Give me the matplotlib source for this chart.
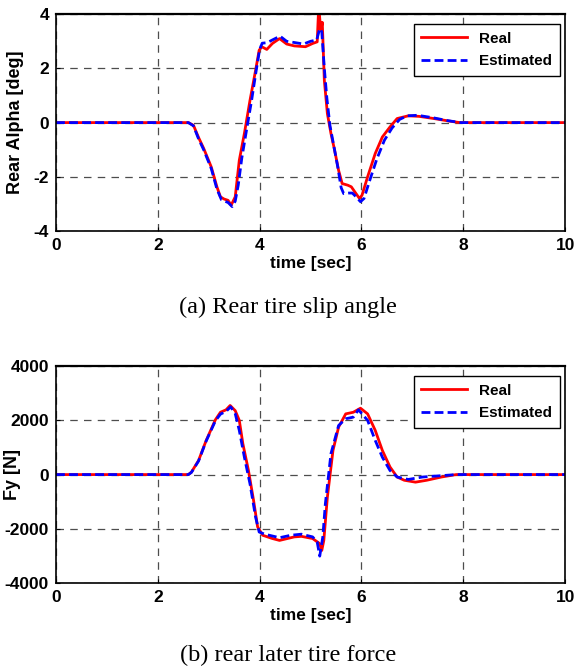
import matplotlib
matplotlib.use('Agg')
import matplotlib.pyplot as plt

# (a) rear tire slip angle [deg]
t_alpha_real = [0, 2.6, 2.7, 2.8, 2.9, 3.05, 3.16, 3.23, 3.3, 3.38, 3.44, 3.52, 3.6, 3.7, 3.81,
                3.92, 3.99, 4.04, 4.14, 4.25, 4.39, 4.53, 4.68, 4.9, 5.04, 5.13, 5.16, 5.2, 5.23,
                5.27, 5.33, 5.4, 5.47, 5.55, 5.62, 5.73, 5.8, 5.87, 5.96, 6.01, 6.12, 6.27, 6.41,
                6.56, 6.7, 6.92, 7.13, 7.42, 7.71, 7.93, 10]
alpha_real = [0, 0, -0.1, -0.55, -0.95, -1.64, -2.37, -2.74, -2.82, -2.87, -3.05, -2.74, -1.39, -0.4, 0.82,
              1.93, 2.67, 2.8, 2.7, 2.92, 3.1, 2.9, 2.83, 2.8, 2.92, 2.98, 4.3, 3.4, 3.7,
              1.56, 0.33, -0.4, -1.0, -1.76, -2.25, -2.31, -2.37, -2.56, -2.8, -2.68, -2.0, -1.14, -0.53,
              -0.16, 0.15, 0.25, 0.23, 0.15, 0.06, 0.0, 0]

t_alpha_est = [0, 2.6, 2.7, 2.8, 2.9, 3.05, 3.16, 3.25, 3.38, 3.46, 3.52, 3.58, 3.65, 3.74, 3.84,
               3.93, 4.0, 4.05, 4.15, 4.25, 4.4, 4.53, 4.7, 4.86, 5.0, 5.12, 5.18, 5.22, 5.27,
               5.32, 5.38, 5.45, 5.53, 5.6, 5.65, 5.75, 5.82, 5.9, 5.98, 6.05, 6.15, 6.3, 6.45,
               6.6, 6.75, 6.9, 7.1, 7.4, 7.7, 7.95, 10]
alpha_est = [0, 0, -0.12, -0.6, -1.0, -1.7, -2.45, -2.85, -2.95, -3.1, -2.9, -2.3, -1.3, -0.3, 0.8,
             1.9, 2.7, 2.93, 2.95, 3.05, 3.19, 3.0, 2.95, 2.9, 3.0, 3.05, 3.47, 3.35, 2.0,
             0.9, -0.1, -0.8, -1.6, -2.4, -2.62, -2.6, -2.6, -2.75, -2.92, -2.8, -2.2, -1.35, -0.65,
             -0.2, 0.12, 0.25, 0.27, 0.18, 0.07, 0.0, 0]

# (b) rear lateral tire force [N]
t_fy_real = [0, 2.6, 2.66, 2.8, 2.95, 3.13, 3.23, 3.34, 3.42, 3.52, 3.6, 3.67, 3.78, 3.88, 3.96,
             4.06, 4.25, 4.39, 4.68, 4.82, 5.04, 5.18, 5.22, 5.26, 5.33, 5.44, 5.55, 5.69, 5.84,
             5.98, 6.12, 6.27, 6.41, 6.56, 6.7, 6.84, 7.06, 7.28, 7.57, 7.86, 10]
fy_real = [0, 0, 90, 520, 1260, 2020, 2300, 2390, 2550, 2360, 2000, 1140, 150, -950, -1930,
           -2240, -2360, -2430, -2300, -2280, -2360, -2550, -2800, -2430, -830, 890, 1750, 2240, 2300,
           2450, 2240, 1630, 890, 280, -90, -210, -280, -210, -90, 0, 0]

t_fy_est = [0, 2.6, 2.66, 2.8, 2.95, 3.13, 3.23, 3.34, 3.43, 3.52, 3.6, 3.7, 3.81, 3.92, 3.99,
            4.1, 4.39, 4.61, 4.82, 5.04, 5.13, 5.18, 5.24, 5.29, 5.4, 5.55, 5.69, 5.84, 5.94,
            6.12, 6.27, 6.41, 6.56, 6.7, 6.92, 7.2, 7.57, 7.86, 10]
fy_est = [0, 0, 80, 500, 1240, 1980, 2230, 2330, 2500, 2250, 1630, 640, -340, -1570, -2120,
          -2200, -2330, -2240, -2200, -2300, -2490, -3010, -2300, -1080, 770, 1810, 2060, 2120, 2390,
          2000, 1260, 640, 150, -90, -180, -90, -40, 0, 0]

x_ticks = [0, 2, 4, 6, 8, 10]
alpha_ticks = [-4, -2, 0, 2, 4]
fy_ticks = [-4000, -2000, 0, 2000, 4000]

plt.rcParams['font.family'] = ['Liberation Sans', 'DejaVu Sans']
plt.rcParams['font.weight'] = 'bold'
plt.rcParams['axes.unicode_minus'] = False


def desenha_painel(ax, t_real, v_real, t_est, v_est, yticks, ylabel, label_x):
    ax.plot(t_real, v_real, color='red', lw=2.0, label='Real')
    ax.plot(t_est, v_est, color='blue', lw=2.0, ls=(0, (3.2, 1.5)), label='Estimated')
    ax.set_xlim(0, 10)
    ax.set_ylim(yticks[0], yticks[-1])
    ax.set_xticks(x_ticks)
    ax.set_yticks(yticks)
    ax.grid(True, color='0.3', ls=(0, (6, 5)), lw=0.9)
    ax.tick_params(direction='in', length=3, labelsize=12.5, pad=5)
    for lbl in ax.get_xticklabels() + ax.get_yticklabels():
        lbl.set_fontweight('bold')
    for sp in ax.spines.values():
        sp.set_linewidth(1.2)
    ax.spines['top'].set_linewidth(1.6)
    ax.set_xlabel('time [sec]', fontsize=12.5, fontweight='bold', labelpad=2)
    ax.set_ylabel(ylabel, fontsize=13, fontweight='bold')
    ax.yaxis.set_label_coords(label_x, 0.5)
    leg = ax.legend(loc='upper right', bbox_to_anchor=(0.99, 0.955), borderaxespad=0,
                    fancybox=False, framealpha=1, edgecolor='black',
                    prop={'size': 11, 'weight': 'bold'}, handlelength=3.0,
                    labelspacing=0.55, borderpad=0.5)
    leg.get_frame().set_linewidth(1.0)


fig = plt.figure(figsize=(5.76, 6.67), dpi=100)
ax1 = fig.add_axes([0.0972, 0.6537, 0.884, 0.325])
ax2 = fig.add_axes([0.0972, 0.126, 0.884, 0.325])

desenha_painel(ax1, t_alpha_real, alpha_real, t_alpha_est, alpha_est, alpha_ticks,
               'Rear Alpha [deg]', -0.063)
desenha_painel(ax2, t_fy_real, fy_real, t_fy_est, fy_est, fy_ticks,
               'Fy [N]', -0.068)

fig.text(0.5, 0.5397, '(a) Rear tire slip angle', ha='center', va='center',
         family='Liberation Serif', fontweight='normal', fontsize=17.5)
fig.text(0.5, 0.018, '(b) rear later tire force', ha='center', va='center',
         family='Liberation Serif', fontweight='normal', fontsize=17.5)

fig.savefig('out.png', dpi=100)
